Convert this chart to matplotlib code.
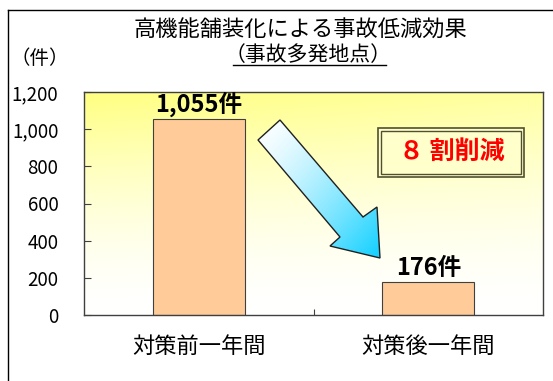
import numpy as np
import matplotlib
matplotlib.use('Agg')
import matplotlib.pyplot as plt
from matplotlib.patches import Rectangle, Polygon
from matplotlib.lines import Line2D
from matplotlib.colors import to_rgb

plt.rcParams['font.family'] = ['Noto Sans CJK JP', 'DejaVu Sans']

# データ
categories = ['対策前一年間', '対策後一年間']
counts = [1055, 176]
value_labels = ['1,055件', '176件']
yticks = [0, 200, 400, 600, 800, 1000, 1200]
ytick_labels = ['0', '200', '400', '600', '800', '1,000', '1,200']

W, H = 553, 381
fig = plt.figure(figsize=(W / 100, H / 100), dpi=100)
fig.patch.set_facecolor('white')


def fx(px):
    return px / W


def fy(py):
    return 1 - py / H


# 外枠
fig.add_artist(Line2D([fx(8), 1], [fy(10), fy(10)], color='black', lw=1))
fig.add_artist(Line2D([fx(8), fx(8)], [fy(10), 0], color='black', lw=1))

ax = fig.add_axes([fx(84), fy(315), (543 - 84) / W, (315 - 92) / H])
ax.set_facecolor('none')

# 背景のグラデーション（上が黄色、下が白）
v = np.linspace(0, 1, 200)[:, None]
u = np.linspace(0, 1, 200)[None, :]
t = np.clip(v ** 1.6 * (1 - 0.25 * u), 0, 1)
top = np.array(to_rgb('#FFFF80'))
bg = np.ones((200, 200, 3)) * (1 - t[..., None]) + top * t[..., None]
ax.imshow(bg, extent=[0, 1, 0, 1], origin='lower', transform=ax.transAxes,
          aspect='auto', zorder=0)

x = np.arange(len(categories))
ax.bar(x, counts, width=0.4, color='#FFCC99', edgecolor='#404040',
       linewidth=0.8, zorder=2)
ax.set_xlim(-0.5, 1.5)
ax.set_ylim(0, 1200)

for xi, c, lab in zip(x, counts, value_labels):
    ax.text(xi, c + 12, lab, ha='center', va='bottom', fontsize=17,
            fontweight='bold', zorder=4)

ax.set_yticks(yticks)
ax.set_yticklabels(ytick_labels, fontsize=13.5)
ax.set_xticks([0.5])
ax.set_xticklabels([''])
ax.tick_params(axis='y', direction='in', length=5, pad=18.5, color='#404040')
ax.tick_params(axis='x', direction='in', length=4, color='#404040')
for xi, cat in zip(x, categories):
    ax.text(xi, -0.14, cat, transform=ax.get_xaxis_transform(), ha='center',
            va='center', fontsize=16)
for s in ax.spines.values():
    s.set_color('#404040')
    s.set_linewidth(1)


def ax_pt(px, py):
    return ((px - 84) / 459, (315 - py) / 223)


# 矢印
arrow_px = [(258, 140), (280, 120), (363, 217), (377, 207), (380, 258),
            (330, 246), (340, 237)]
arrow = Polygon([ax_pt(*p) for p in arrow_px], closed=True,
                transform=ax.transAxes, facecolor='none', edgecolor='#202020',
                linewidth=1, zorder=6)
ax.add_patch(arrow)
gx = np.linspace(0, 1, 100)[None, :]
gy = np.linspace(0, 1, 100)[:, None]
g = np.clip((gx + gy) / 2, 0, 1) ** 1.4
c0 = np.array(to_rgb('#FFFFFF'))
c1 = np.array(to_rgb('#10D0FF'))
grad = c0 * (1 - g[..., None]) + c1 * g[..., None]
x0, y0 = ax_pt(258, 120)
x1, y1 = ax_pt(380, 258)
im = ax.imshow(grad, extent=[x0, x1, y1, y0], origin='upper',
               transform=ax.transAxes, aspect='auto', zorder=5)
im.set_clip_path(arrow)

# 「8割削減」ボックス
bx0, by0 = ax_pt(378, 177)
bx1, by1 = ax_pt(524, 128)
ax.add_patch(Rectangle((bx0, by0), bx1 - bx0, by1 - by0, transform=ax.transAxes,
                       facecolor='#FFFFCC', edgecolor='#505030', lw=1.2, zorder=6))
ix0, iy0 = ax_pt(381, 174)
ix1, iy1 = ax_pt(521, 131)
ax.add_patch(Rectangle((ix0, iy0), ix1 - ix0, iy1 - iy0, transform=ax.transAxes,
                       facecolor='none', edgecolor='#505030', lw=1, zorder=7))
tx, ty = ax_pt(452, 152)
ax.text(tx, ty, '８ 割削減', transform=ax.transAxes, ha='center', va='center',
        fontsize=18, fontweight='bold', color='#FF0000', zorder=8)

# タイトル
fig.text(fx(300), fy(30), '高機能舗装化による事故低減効果', ha='center',
         va='center', fontsize=16)
sub = fig.text(fx(308), fy(55), '（事故多発地点）', ha='center', va='center',
               fontsize=15)
fig.text(fx(40), fy(58), '（件）', ha='center', va='center', fontsize=14)

fig.canvas.draw()
bb = sub.get_window_extent().transformed(fig.transFigure.inverted())
fig.add_artist(Line2D([bb.x0 + fx(8), bb.x1 - fx(6)], [fy(65), fy(65)],
                      color='black', lw=1))

fig.savefig('out.png', dpi=100)
